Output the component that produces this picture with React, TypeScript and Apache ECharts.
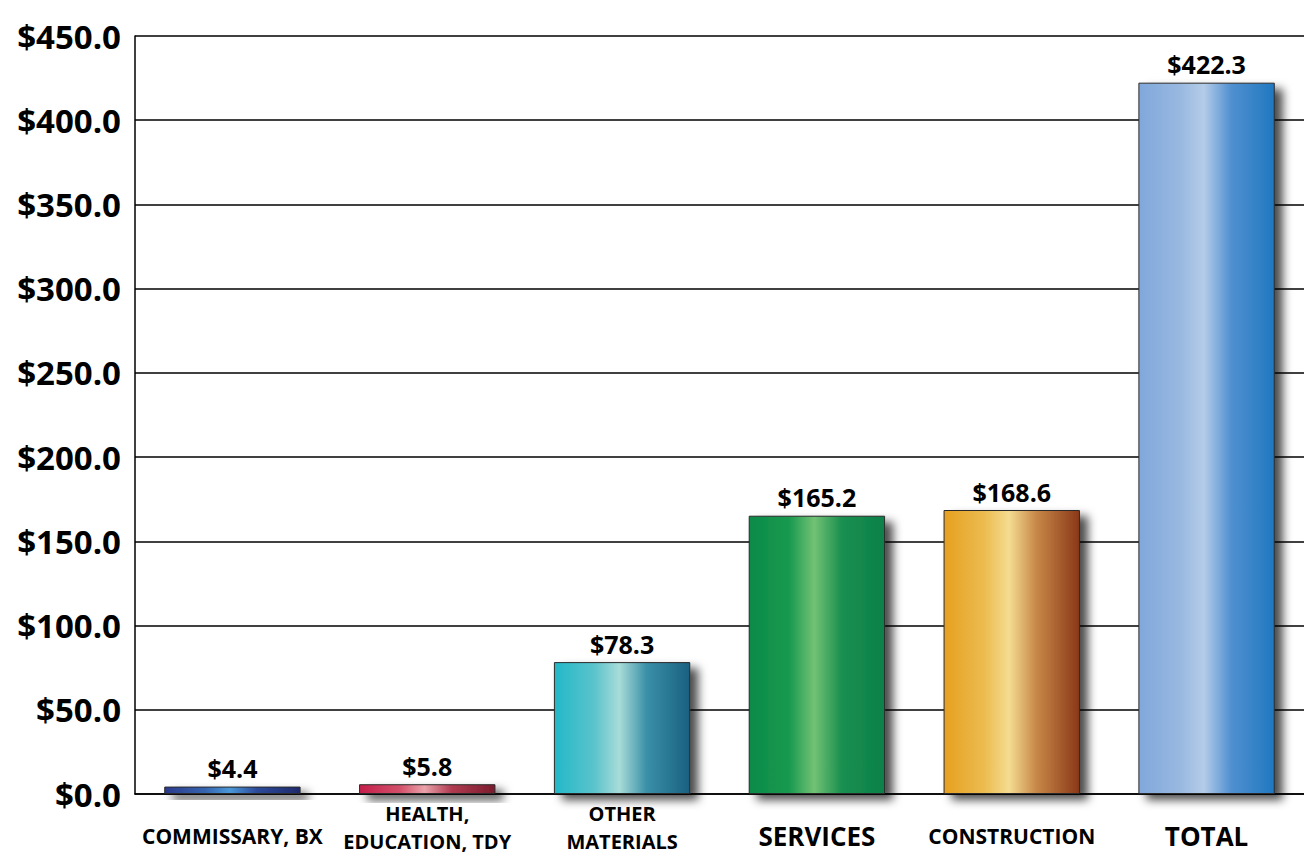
import React, { useEffect, useRef } from "react";
import * as echarts from "echarts";

const categories = ["COMMISSARY, BX", "HEALTH,\nEDUCATION, TDY", "OTHER\nMATERIALS", "SERVICES", "CONSTRUCTION", "TOTAL"];
const values = [4.4, 5.8, 78.3, 165.2, 168.6, 422.3];
const yTicks = { min: 0, max: 450, interval: 50 };
const largeLabels = ["SERVICES", "TOTAL"];

const gradients: string[][] = [
  ["#2b3a8c", "#3564b0", "#4a98d8", "#2d4a9a", "#1e2a6c"],
  ["#c41e4a", "#d2506a", "#eaa2aa", "#b03a50", "#7a1c2c"],
  ["#22b8c8", "#5cc4cc", "#a8dcd8", "#3a90a8", "#1a6080"],
  ["#0a8a48", "#1a9a50", "#72c274", "#1a9050", "#0a8048"],
  ["#e6a020", "#ecbc50", "#f4dc90", "#c88848", "#8a3818"],
  ["#80a8dc", "#98b8e0", "#b4cce8", "#5090d0", "#2078c0"],
];

export default function App() {
  const ref = useRef<HTMLDivElement>(null);
  useEffect(() => {
    if (!ref.current) return;
    document.body.style.margin = "0";
    const chart = echarts.init(ref.current, null, { renderer: "svg" });
    const font = "'Open Sans', 'DejaVu Sans', sans-serif";
    chart.setOption({
      animation: false,
      backgroundColor: "#ffffff",
      grid: { left: 135, right: 0, top: 36, bottom: 66, containLabel: false, outerBoundsMode: "none" },
      xAxis: {
        type: "category",
        data: categories.map((c) => {
          const single = c.indexOf("\n") < 0;
          return {
            value: c,
            textStyle: {
              fontSize: largeLabels.includes(c) ? 26 : single ? 21 : 20,
              padding: single ? [23, 0, 0, 0] : 0,
            },
          };
        }),
        axisLine: { show: true, lineStyle: { color: "#000", width: 1.5 } },
        axisTick: { show: false },
        axisLabel: {
          interval: 0,
          color: "#000",
          fontFamily: font,
          fontWeight: "bold",
          margin: 5,
          lineHeight: 28,
          verticalAlign: "top",
        },
      },
      yAxis: {
        type: "value",
        min: yTicks.min,
        max: yTicks.max,
        interval: yTicks.interval,
        axisLine: { show: true, lineStyle: { color: "#000", width: 1.5 } },
        axisTick: { show: false },
        splitLine: { show: true, lineStyle: { color: "#000", width: 1.5 } },
        axisLabel: {
          color: "#000",
          fontFamily: font,
          fontWeight: "bold",
          fontSize: 33,
          margin: 14,
          formatter: (v: number) => "$" + v.toFixed(1),
        },
      },
      series: [
        {
          type: "bar",
          barWidth: "70%",
          data: values.map((v, i) => ({
            value: v,
            itemStyle: {
              color: new echarts.graphic.LinearGradient(0, 0, 1, 0, [
                { offset: 0, color: gradients[i][0] },
                { offset: 0.3, color: gradients[i][1] },
                { offset: 0.48, color: gradients[i][2] },
                { offset: 0.68, color: gradients[i][3] },
                { offset: 1, color: gradients[i][4] },
              ]),
            },
          })),
          itemStyle: {
            borderColor: "#2a2a2a",
            borderWidth: 1,
            shadowBlur: 10,
            shadowOffsetX: 8,
            shadowOffsetY: 6,
            shadowColor: "rgba(0,0,0,0.7)",
          },
          label: {
            show: true,
            position: "top",
            distance: 6,
            color: "#000",
            fontFamily: font,
            fontWeight: "bold",
            fontSize: 25,
            formatter: (p: any) => "$" + Number(p.value).toFixed(1),
          },
        },
      ],
    });
    return () => chart.dispose();
  }, []);
  return (
    <div
      ref={ref}
      style={{ position: "fixed", left: 0, top: 0, width: 1304, height: 860, background: "#fff" }}
    />
  );
}
